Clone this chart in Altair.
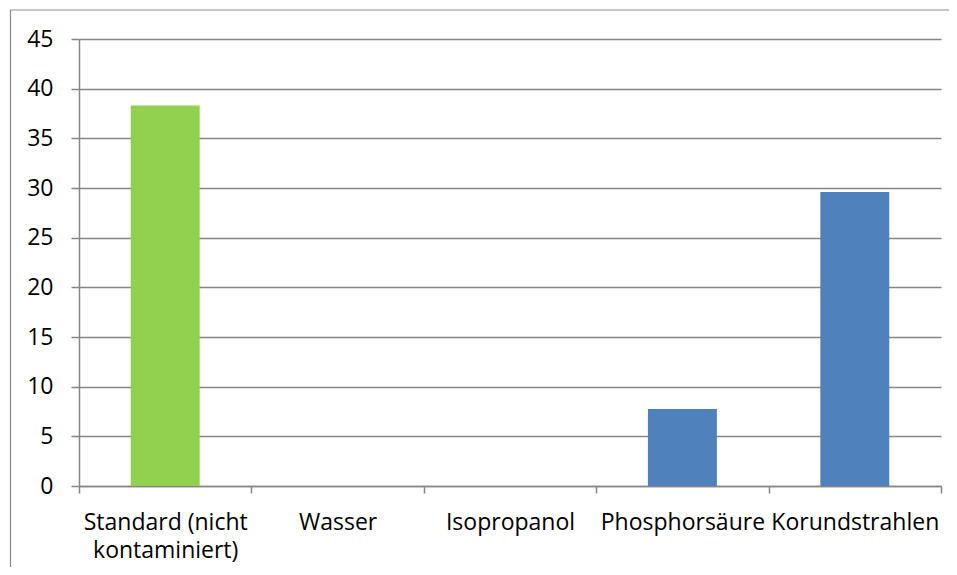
import altair as alt
import pandas as pd

categories = ["Standard (nicht kontaminiert)", "Wasser", "Isopropanol", "Phosphorsäure", "Korundstrahlen"]
values = [38.3, 0, 0, 7.75, 29.6]
colors = ["#92D050", "#4F81BD", "#4F81BD", "#4F81BD", "#4F81BD"]
y_ticks = [0, 5, 10, 15, 20, 25, 30, 35, 40, 45]

df = pd.DataFrame({"cat": categories, "val": values, "col": colors})

grey = "#868686"
font = "Open Sans"

bars = alt.Chart(df).mark_bar(width=alt.RelativeBandSize(0.4)).encode(
    x=alt.X("cat:N", sort=categories, title=None,
            scale=alt.Scale(paddingInner=0, paddingOuter=0),
            axis=alt.Axis(labelAngle=0, tickBand="extent", tickSize=7, tickColor=grey,
                          domainColor=grey, labelFont=font, labelFontSize=23,
                          labelColor="#000000", labelPadding=18, labelLimit=400,
                          labelOverlap=False, labelLineHeight=28, grid=False,
                          labelExpr="datum.label == 'Standard (nicht kontaminiert)' ? ['Standard (nicht', 'kontaminiert)'] : datum.label")),
    y=alt.Y("val:Q", title=None,
            scale=alt.Scale(domain=[0, 45], nice=False),
            axis=alt.Axis(values=y_ticks, tickSize=8, tickColor=grey, domainColor=grey,
                          gridColor=grey, gridWidth=1.5, labelFont=font, labelFontSize=23,
                          labelColor="#000000", labelPadding=18)),
    color=alt.Color("col:N", scale=None, legend=None),
)

frame = alt.Chart(alt.Data(values=[{}])).mark_rect(
    fill=None, stroke="#898989", strokeWidth=1.2
).encode(
    x=alt.value(-68.5), x2=alt.value(1000),
    y=alt.value(-29), y2=alt.value(700),
)

chart = alt.layer(frame, bars).properties(
    width=862, height=447,
    padding={"left": 71, "top": 31, "right": 8, "bottom": 81},
    autosize=alt.AutoSizeParams(type="none"),
).configure_view(stroke=None).configure_axis(domainWidth=1.5, tickWidth=1.5)

chart.save("out.html", embed_options={"renderer": "svg", "actions": False})
